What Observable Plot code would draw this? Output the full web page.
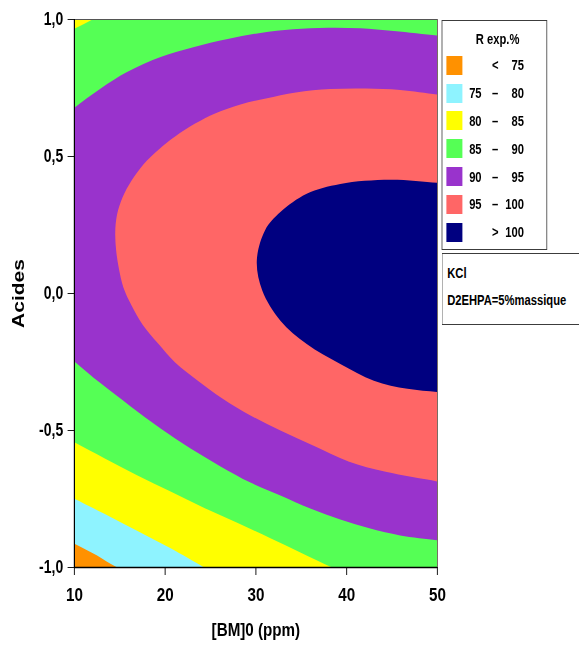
<!DOCTYPE html>
<html>
<head>
<meta charset="utf-8">
<script src="https://cdn.jsdelivr.net/npm/d3@7"></script>
<script src="https://cdn.jsdelivr.net/npm/@observablehq/plot@0.6"></script>
<style>
  html, body { margin: 0; padding: 0; background: #fff; overflow: hidden; width: 579px; height: 647px; }
  #wrap { position: relative; width: 724px; height: 647px; transform: scaleX(0.8); transform-origin: 0 0;
          font-family: "Liberation Sans", Arial, sans-serif; font-weight: bold; color: #000; }
  #wrap svg { position: absolute; left: 0; top: 0; }
  .box { position: absolute; box-sizing: border-box; border: 1.5px solid #3c3c3c; background: #fff; }
  .t { position: absolute; font-size: 14px; height: 20px; line-height: 20px; white-space: nowrap; }
  .sw { position: absolute; width: 20px; height: 19px; }
</style>
</head>
<body>
<div id="wrap"></div>
<script>
// ---- axes ----
const xDomain = [10, 50];
const yDomain = [-1, 1];
const xTicks = [10, 20, 30, 40, 50];
const yTicks = [-1, -0.5, 0, 0.5, 1];
const xLabel = "[BM]0 (ppm)";
const yLabel = "Acides";

// ---- legend ----
const legendTitle = "R exp.%";
const bandColors = ["#FF9100", "#8EF3FF", "#FFFF00", "#55FF55", "#9933CC", "#FF6666", "#000080"];
const bandLow  = [null, 75, 80, 85, 90, 95, 100];
const bandHigh = [75, 80, 85, 90, 95, 100, null];
const noteLines = ["KCl", "D2EHPA=5%massique"];

// ---- contour boundaries ([BM]0 ppm, Acides);
//      first/last points continue each curve just outside the frame (clipped) ----
const c75 = [[8, -0.879], [10, -0.913], [12.5, -0.956], [14.75, -1.0], [18, -1.034]];
const c80 = [[8, -0.715], [10, -0.749], [13.3, -0.804], [16.9, -0.866], [20.6, -0.930],
             [24.3, -1.0], [26.3, -1.04]];
const c85top = [[8, 0.932], [10, 0.966], [12.0, 1.0], [14, 1.035]];
const c85low = [[8, -0.508], [10, -0.543], [13.3, -0.601], [16.9, -0.663], [20.6, -0.723],
                [24.2, -0.781], [28.0, -0.838], [31.6, -0.893], [34.9, -0.945], [38.4, -1.0],
                [40.4, -1.03]];
const c90top = [[8, 0.622], [10, 0.678], [12.9, 0.748], [15.8, 0.808], [19.5, 0.863], [23.1, 0.899],
                [26.9, 0.929], [30.5, 0.951], [34.1, 0.964], [37.9, 0.970], [41.5, 0.968],
                [45.2, 0.958], [50, 0.941], [52, 0.933]];
const c90low = [[8, -0.189], [10, -0.248], [12.9, -0.328], [16.2, -0.412], [19.5, -0.493],
                [22.8, -0.566], [26.1, -0.631], [29.4, -0.690], [32.7, -0.737], [36.0, -0.785],
                [39.3, -0.825], [42.6, -0.858], [45.9, -0.883], [50, -0.901], [52, -0.910]];
const c95 = [[52, 0.718], [50, 0.726], [45.9, 0.743], [42.1, 0.748], [38.2, 0.746], [34.4, 0.734],
             [31.1, 0.712], [28.3, 0.690], [25.5, 0.657], [23.3, 0.620], [21.1, 0.573],
             [19.3, 0.526], [17.6, 0.471], [16.3, 0.412], [15.3, 0.350], [14.7, 0.288],
             [14.5, 0.223], [14.6, 0.157], [14.9, 0.091], [15.4, 0.022], [16.3, -0.044],
             [17.5, -0.113], [19.2, -0.182], [21.1, -0.252], [23.6, -0.318], [26.3, -0.383],
             [29.4, -0.445], [32.7, -0.500], [36.3, -0.555], [40.2, -0.613], [44.3, -0.651],
             [50, -0.686], [52, -0.698]];
const c100 = [[52, 0.400], [50, 0.404], [44.8, 0.415], [39.3, 0.400], [35.6, 0.364], [32.7, 0.297],
              [31.0, 0.230], [30.1, 0.120], [30.7, 0.011], [32.7, -0.099], [35.6, -0.184],
              [39.3, -0.257], [43.0, -0.318], [46.7, -0.348], [50, -0.360], [52, -0.368]];

// ---- regions {R >= level}, closed with points outside the frame (clipped) ----
const [x0, x1] = xDomain, [y0, y1] = yDomain;
const BR = [x1 + 3, y0 - 0.15], TR = [x1 + 3, y1 + 0.15], TL = [x0 - 3, y1 + 0.15];
const regions = [
  [...c75, BR, TR, TL],
  [...c80, BR, TR, TL],
  [...c85top.slice().reverse(), ...c85low, BR, TR],
  [...c90top.slice().reverse(), ...c90low],
  c95,
  c100
];

const fmtY = d => d.toFixed(1).replace(".", ",");

const plot = Plot.plot({
  width: 724,
  height: 647,
  marginLeft: 92.5,
  marginRight: 177.75,
  marginTop: 19,
  marginBottom: 80,
  x: {domain: xDomain},
  y: {domain: yDomain},
  style: {fontFamily: "'Liberation Sans', Arial, sans-serif", background: "transparent", color: "#000"},
  marks: [
    Plot.frame({fill: bandColors[0]}),
    ...regions.map((pts, i) => Plot.line(pts, {
      x: d => d[0], y: d => d[1],
      fill: bandColors[i + 1], stroke: "none",
      curve: "catmull-rom", clip: true
    })),
    Plot.frame({stroke: "#555", strokeWidth: 1}),
    Plot.ruleX([xDomain[0]], {stroke: "#000", strokeWidth: 1.5}),
    Plot.ruleY([yDomain[0]], {stroke: "#000", strokeWidth: 1.5}),
    Plot.axisX({ticks: xTicks, tickSize: 8, tickPadding: 12, fontSize: 19, fontWeight: "bold",
                label: xLabel, labelAnchor: "center", labelOffset: 68, labelArrow: "none"}),
    Plot.axisY({ticks: yTicks, tickFormat: fmtY, tickSize: 8, tickPadding: 6, fontSize: 17.5,
                fontWeight: "bold", label: null}),
    Plot.axisY({ticks: [], tickSize: 0, fontSize: 21, fontWeight: "bold",
                label: yLabel, labelAnchor: "center", labelOffset: 78, labelArrow: "none"})
  ]
});

const wrap = document.getElementById("wrap");
wrap.appendChild(plot);

function el(cls, css, text) {
  const d = document.createElement("div");
  d.className = cls;
  Object.assign(d.style, css);
  if (text != null) d.textContent = text;
  wrap.appendChild(d);
  return d;
}

// legend box
el("box", {left: "552px", top: "20px", width: "131.5px", height: "229.5px"});
el("t", {left: "560px", top: "29px", width: "124px", textAlign: "center"}, legendTitle);
bandColors.forEach((c, i) => {
  const cy = 65.3 + 27.8 * i;
  el("sw", {left: "557.5px", top: (cy - 9.5) + "px", background: c});
  const lo = bandLow[i], hi = bandHigh[i];
  const sym = lo == null ? "<" : hi == null ? ">" : "\u2013";
  if (lo != null && hi != null) el("t", {left: "562px", width: "40px", top: (cy - 10) + "px", textAlign: "right"}, String(lo));
  el("t", {left: "609px", width: "20px", top: (cy - 10) + "px", textAlign: "center"}, sym);
  el("t", {left: "615px", width: "40px", top: (cy - 10) + "px", textAlign: "right"}, String(hi != null ? hi : lo));
});

// note box (runs off the right edge, as in the reference)
el("box", {left: "552px", top: "253px", width: "400px", height: "72px", borderRight: "none"});
noteLines.forEach((s, i) => {
  el("t", {left: "559px", top: (262.5 + 27.5 * i) + "px"}, s);
});
</script>
</body>
</html>
